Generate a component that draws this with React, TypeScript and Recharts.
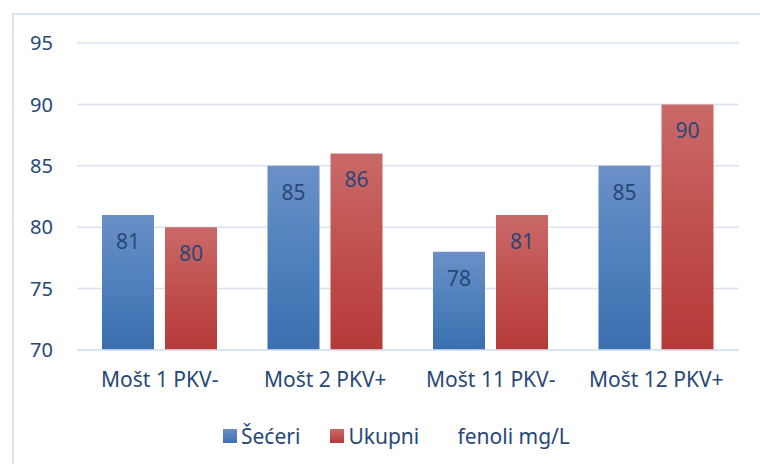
import React from 'react';
import { BarChart, Bar, XAxis, YAxis, CartesianGrid, Legend, LabelList } from 'recharts';

const categories = ['Mošt 1 PKV-', 'Mošt 2 PKV+', 'Mošt 11 PKV-', 'Mošt 12 PKV+'];
const seceri = [81, 85, 78, 85];
const fenoli = [80, 86, 81, 90];
const yTicks = [70, 75, 80, 85, 90, 95];

const SERIES_A = 'Šećeri';
const SERIES_B = 'Ukupni       fenoli mg/L';

const data = categories.map((name, i) => ({ name, seceri: seceri[i], fenoli: fenoli[i] }));

const FONT = '"Noto Sans", sans-serif';
const TEXT = '#274878';
const GRID = '#d9e4f2';

const LegendBox = () => (
  <div style={{ display: 'flex', alignItems: 'center', fontFamily: FONT, fontSize: 21, color: TEXT, paddingLeft: 223 }}>
    <span style={{ width: 14, height: 14, background: 'linear-gradient(#6b8fc7, #3c6fb0)', display: 'inline-block', marginRight: 4 }} />
    <span style={{ marginRight: 30 }}>{SERIES_A}</span>
    <span style={{ width: 14, height: 14, background: 'linear-gradient(#c96a68, #b63b39)', display: 'inline-block', marginRight: 4 }} />
    <span style={{ whiteSpace: 'pre' }}>{SERIES_B}</span>
  </div>
);

const App: React.FC = () => {
  return (
    <div style={{ position: 'relative', width: 760, height: 464, overflow: 'hidden', background: '#fff' }}>
      <style>{`body{margin:0}`}</style>
      <div
        style={{
          position: 'absolute',
          left: 12,
          top: 13,
          width: 800,
          height: 500,
          border: `2px solid ${GRID}`,
        }}
      />
      <div style={{ position: 'absolute', left: 0, top: 0 }}>
        <BarChart
          width={760}
          height={464}
          data={data}
          margin={{ top: 43, right: 21, bottom: 36, left: 0 }}
          barSize={52}
          barGap={11}
        >
          <defs>
            <linearGradient id="gBlue" x1="0" y1="0" x2="0" y2="1">
              <stop offset="0%" stopColor="#6b8fc7" />
              <stop offset="50%" stopColor="#4f81bd" />
              <stop offset="100%" stopColor="#3b6eaf" />
            </linearGradient>
            <linearGradient id="gRed" x1="0" y1="0" x2="0" y2="1">
              <stop offset="0%" stopColor="#c96a68" />
              <stop offset="50%" stopColor="#c0504d" />
              <stop offset="100%" stopColor="#b53a38" />
            </linearGradient>
          </defs>
          <CartesianGrid vertical={false} stroke={GRID} strokeWidth={1.5} />
          <XAxis
            dataKey="name"
            height={50}
            tickLine={false}
            axisLine={{ stroke: GRID, strokeWidth: 1.5 }}
            tickSize={0}
            tickMargin={22}
            tick={{ fill: TEXT, fontSize: 21, fontFamily: FONT }}
          />
          <YAxis
            domain={[70, 95]}
            ticks={yTicks}
            width={77}
            axisLine={false}
            tickLine={false}
            tickSize={0}
            tickMargin={24}
            tick={{ fill: TEXT, fontSize: 20, fontFamily: FONT }}
          />
          <Legend verticalAlign="bottom" content={<LegendBox />} wrapperStyle={{ bottom: 14 }} />
          <Bar dataKey="seceri" name={SERIES_A} fill="url(#gBlue)" isAnimationActive={false}>
            <LabelList dataKey="seceri" position="insideTop" offset={19} fill={TEXT} fontSize={21} fontFamily={FONT} />
          </Bar>
          <Bar dataKey="fenoli" name={SERIES_B} fill="url(#gRed)" isAnimationActive={false}>
            <LabelList dataKey="fenoli" position="insideTop" offset={19} fill={TEXT} fontSize={21} fontFamily={FONT} />
          </Bar>
        </BarChart>
      </div>
    </div>
  );
};

export default App;
